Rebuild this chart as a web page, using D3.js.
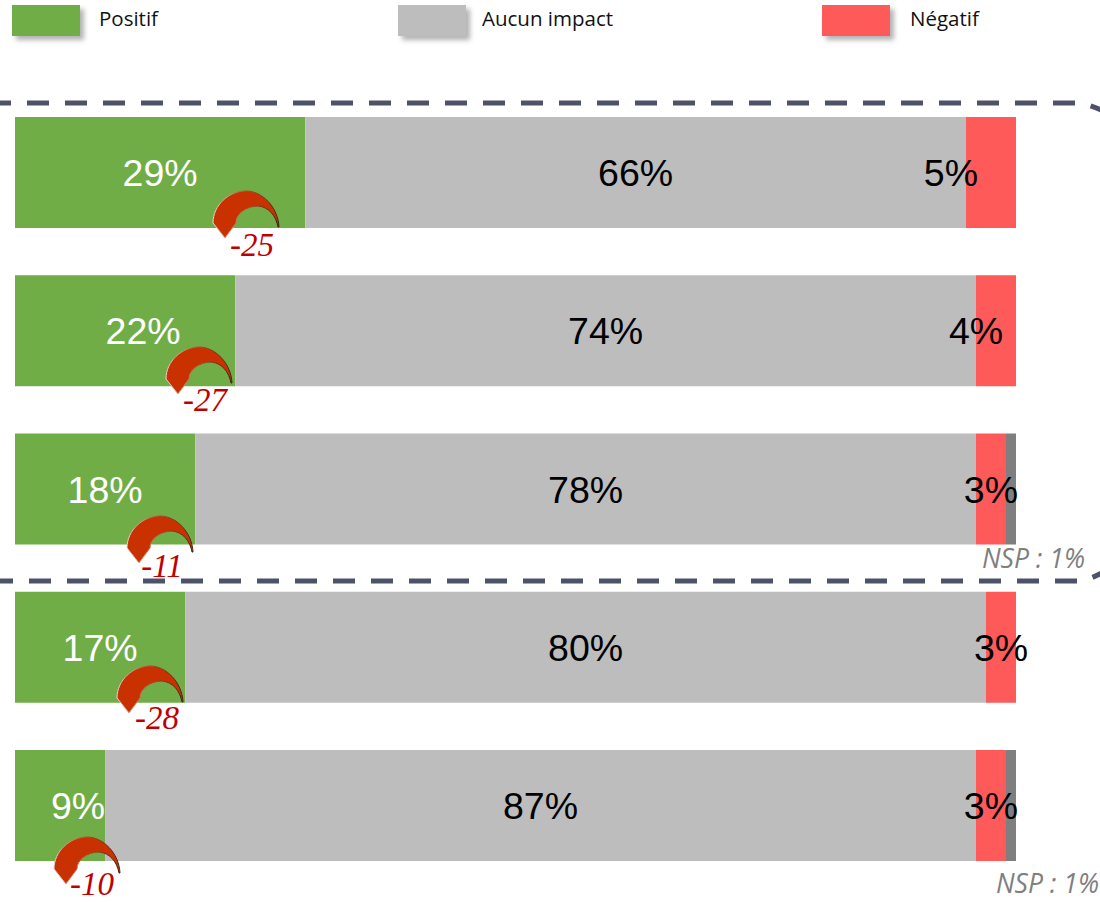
<!DOCTYPE html>
<html>
<head>
<meta charset="utf-8">
<script src="https://cdnjs.cloudflare.com/ajax/libs/d3/7.8.5/d3.min.js"></script>
<style>
  html, body { margin: 0; padding: 0; background: #fff; }
  svg { display: block; }
  .legendText { font-family: "Open Sans", sans-serif; font-size: 20.5px; fill: #111; }
  .barText { font-family: "Liberation Sans", Arial, sans-serif; font-size: 37.5px; }
  .nspText { font-family: "Open Sans", sans-serif; font-style: italic; font-size: 26.5px; fill: #7f7f7f; }
  .deltaText { font-family: "Liberation Serif", serif; font-style: italic; font-size: 33px; fill: #c00000; }
</style>
</head>
<body>
<div id="chart"></div>
<script>
// Data
var rows = ["r1", "r2", "r3", "r4", "r5"];
var keys = ["positif", "aucun", "negatif", "nsp"];
var keyNames = ["Positif", "Aucun impact", "Négatif"];
var positif = [29, 22, 18, 17, 9];
var aucun = [66, 74, 78, 80, 87];
var negatif = [5, 4, 3, 3, 3];
var nsp = [0, 0, 1, 0, 1];
var deltas = ["-25", "-27", "-11", "-28", "-10"];
var nspLabels = ["", "", "NSP : 1%", "", "NSP : 1%"];

// Layout tweaks
var colors = ["#70ad47", "#bdbdbd", "#ff5a5a", "#7f7f7f"];
var labelColors = ["#fff", "#000", "#000"];
var positifShift = [0, 18, 0, 0, 18];
var negatifShift = [-40, -20, 0, 0, 0];
var arrowRight = [279, 232, 193, 183, 120];
var arrowBase = [227, 383, 552, 702, 873];
var deltaX = [252, 205, 162, 157, 92];
var deltaY = [256, 411, 577, 729, 895];
var nspRight = [0, 0, 1085, 0, 1099];
var nspY = [0, 0, 568, 0, 893];
var legendX = [12, 398, 822];
var legendTextX = [99, 482, 910];

var svgWidth = 1100;
var svgHeight = 902;

var svg = d3.select("#chart")
  .append("svg")
  .attr("width", svgWidth)
  .attr("height", svgHeight);

var defs = svg.append("defs");

var shadow = defs.append("filter").attr("id", "legendShadow")
  .attr("x", "-20%").attr("y", "-30%").attr("width", "150%").attr("height", "170%");
shadow.append("feDropShadow")
  .attr("dx", 4).attr("dy", 4).attr("stdDeviation", 2.5)
  .attr("flood-color", "#000").attr("flood-opacity", 0.3);

var soft = defs.append("filter").attr("id", "soft");
soft.append("feGaussianBlur").attr("stdDeviation", 0.7);

var edge = defs.append("linearGradient").attr("id", "arrowEdge");
edge.append("stop").attr("offset", "0%").attr("stop-color", "#e4d8d2");
edge.append("stop").attr("offset", "50%").attr("stop-color", "#b04a28");
edge.append("stop").attr("offset", "100%").attr("stop-color", "#3a2018");

var x = d3.scaleLinear().domain([0, 100]).range([15, 1016]);
var y = d3.scaleBand().domain(rows).range([117, 861]).paddingInner(0.2986);

var table = rows.map(function(r, i) {
  return { row: r, positif: positif[i], aucun: aucun[i], negatif: negatif[i], nsp: nsp[i] };
});
var stacked = d3.stack().keys(keys)(table);

// Dashed frame, its right side runs off the page
var frame = [
  "M-11,103H1076Q1090,103 1112,116",
  "M-9,581H1077Q1090,581 1112,567"
];
svg.selectAll("path.frame")
  .data(frame)
  .enter()
  .append("path")
  .attr("class", "frame")
  .attr("d", d => d)
  .attr("fill", "none")
  .attr("stroke", "#4c5268")
  .attr("stroke-width", 5)
  .attr("stroke-dasharray", "22 16");

// Legend
var legend = svg.selectAll("g.legend")
  .data(keyNames)
  .enter()
  .append("g")
  .attr("class", "legend");

legend.append("rect")
  .attr("x", (d, i) => legendX[i])
  .attr("y", 5)
  .attr("width", 68)
  .attr("height", 31)
  .attr("fill", (d, i) => colors[i])
  .attr("filter", "url(#legendShadow)");

legend.append("text")
  .attr("class", "legendText")
  .attr("x", (d, i) => legendTextX[i])
  .attr("y", 26)
  .text(d => d);

// Bars
var layers = svg.selectAll("g.layer")
  .data(stacked)
  .enter()
  .append("g")
  .attr("class", "layer")
  .attr("fill", (d, i) => colors[i]);

layers.selectAll("rect")
  .data(d => d)
  .enter()
  .append("rect")
  .attr("x", d => x(d[0]))
  .attr("y", d => y(d.data.row))
  .attr("width", d => x(d[1]) - x(d[0]))
  .attr("height", y.bandwidth());

// Percent labels
stacked.slice(0, 3).forEach(function(layer, k) {
  svg.selectAll("text.bar" + k)
    .data(layer)
    .enter()
    .append("text")
    .attr("class", "barText bar" + k)
    .attr("text-anchor", "middle")
    .attr("fill", labelColors[k])
    .attr("x", function(d, i) {
      var shift = k === 0 ? positifShift[i] : k === 2 ? negatifShift[i] : 0;
      return x((d[0] + d[1]) / 2) + shift;
    })
    .attr("y", d => y(d.data.row) + 69)
    .text(d => (d[1] - d[0]) + "%");
});

// Evolution arrows, same shape on every row
var arrowShape = "M0,0C-1,-20 -17,-36 -33,-36C-50,-36 -66,-22 -66,-4L-54,11L-43,-4"
  + "C-43,-13 -33,-21 -21,-21C-10,-20 -3,-11 -1,0Z";

svg.selectAll("path.arrow")
  .data(rows)
  .enter()
  .append("path")
  .attr("class", "arrow")
  .attr("d", arrowShape)
  .attr("transform", (d, i) => `translate(${arrowRight[i]},${arrowBase[i]})`)
  .attr("fill", "#c93200")
  .attr("stroke", "url(#arrowEdge)")
  .attr("stroke-width", 1)
  .attr("filter", "url(#soft)");

svg.selectAll("text.deltaText")
  .data(deltas)
  .enter()
  .append("text")
  .attr("class", "deltaText")
  .attr("text-anchor", "middle")
  .attr("x", (d, i) => deltaX[i])
  .attr("y", (d, i) => deltaY[i])
  .text(d => d);

// NSP notes
svg.selectAll("text.nspText")
  .data(nspLabels.filter(d => d))
  .enter()
  .append("text")
  .attr("class", "nspText")
  .attr("text-anchor", "end")
  .attr("x", (d, i) => nspRight.filter(v => v)[i])
  .attr("y", (d, i) => nspY.filter(v => v)[i])
  .text(d => d);
</script>
</body>
</html>
